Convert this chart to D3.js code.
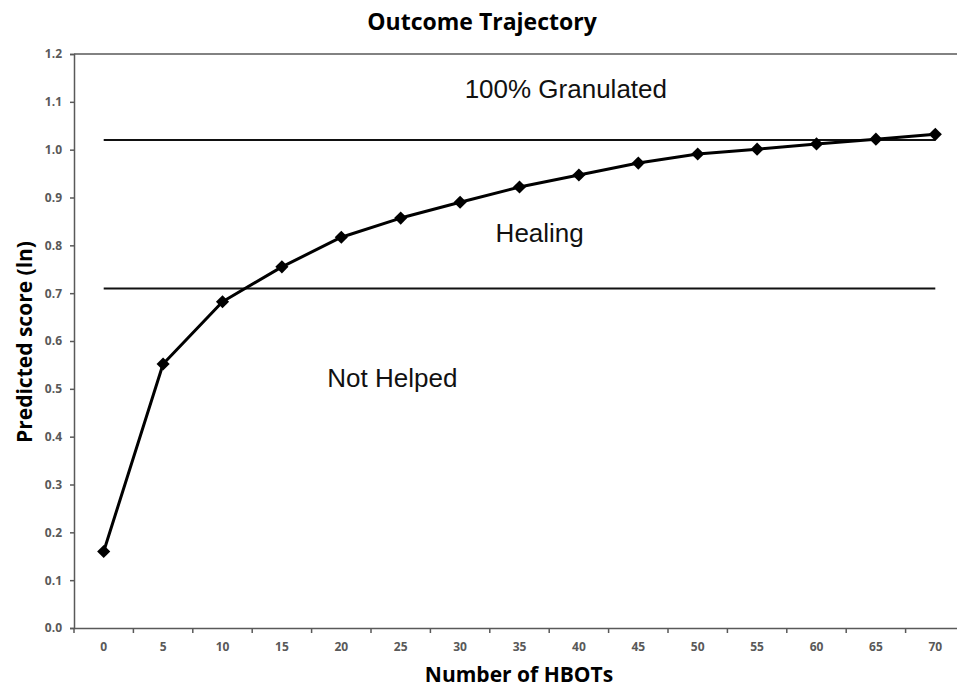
<!DOCTYPE html>
<html>
<head>
<meta charset="utf-8">
<script src="https://cdn.jsdelivr.net/npm/d3@7/dist/d3.min.js"></script>
<style>
  body { margin: 0; background: #fff; }
  svg { display: block; }
</style>
</head>
<body>
<div id="chart"></div>
<script>
// HBOT session counts and predicted score (ln)
const sessions = [0, 5, 10, 15, 20, 25, 30, 35, 40, 45, 50, 55, 60, 65, 70];
const scores = [0.16, 0.552, 0.682, 0.755, 0.817, 0.857, 0.89, 0.922, 0.947, 0.972, 0.991, 1.001, 1.012, 1.022, 1.032];
const yTicks = [0, 0.1, 0.2, 0.3, 0.4, 0.5, 0.6, 0.7, 0.8, 0.9, 1.0, 1.1, 1.2];
const thresholds = [1.02, 0.71];
const zoneLabels = [
  { text: "100% Granulated", at: 38.9, value: 1.109 },
  { text: "Healing", at: 36.7, value: 0.808 },
  { text: "Not Helped", at: 24.3, value: 0.504 }
];

const width = 957, height = 687;
const plotLeft = 74, plotRight = 965, plotTop = 54, plotBottom = 628;

const svg = d3.select("#chart").append("svg")
  .attr("width", width)
  .attr("height", height);

const x = d3.scaleBand()
  .domain(sessions)
  .range([plotLeft, plotRight]);

const y = d3.scaleLinear()
  .domain([0, 1.2])
  .range([plotBottom, plotTop]);

const cx = d => x(d) + x.bandwidth() / 2;
const axisColor = "#595959";
const sans = "'Open Sans', 'Noto Sans', sans-serif";

// top border of plot area
svg.append("line")
  .attr("x1", plotLeft).attr("x2", width)
  .attr("y1", y(1.2)).attr("y2", y(1.2))
  .attr("stroke", axisColor).attr("stroke-width", 1.5);

// y axis
const yAxis = svg.append("g")
  .attr("transform", `translate(${plotLeft},0)`)
  .call(d3.axisLeft(y).tickValues(yTicks).tickFormat(d3.format(".1f")).tickSize(4).tickPadding(8));
yAxis.select(".domain").attr("stroke", axisColor).attr("stroke-width", 1.5);
yAxis.selectAll(".tick line").attr("stroke", axisColor).attr("stroke-width", 1.5);
yAxis.selectAll("text")
  .attr("fill", axisColor)
  .style("font-family", sans)
  .style("font-size", "12px")
  .style("font-weight", "700");

// x axis (ticks between categories, like Excel)
const xAxis = svg.append("g")
  .attr("transform", `translate(0,${plotBottom})`)
  .call(d3.axisBottom(x).tickSize(0).tickPadding(14));
xAxis.select(".domain").attr("stroke", axisColor).attr("stroke-width", 1.5);
xAxis.selectAll("text")
  .attr("fill", axisColor)
  .style("font-family", sans)
  .style("font-size", "12px")
  .style("font-weight", "700");
xAxis.selectAll(".between")
  .data(sessions)
  .enter().append("line")
  .attr("x1", d => x(d)).attr("x2", d => x(d))
  .attr("y1", 0).attr("y2", 5)
  .attr("stroke", axisColor).attr("stroke-width", 1.5);

// threshold lines
svg.selectAll(".threshold")
  .data(thresholds)
  .enter().append("line")
  .attr("x1", cx(sessions[0]))
  .attr("x2", cx(sessions[sessions.length - 1]))
  .attr("y1", d => y(d)).attr("y2", d => y(d))
  .attr("stroke", "#111").attr("stroke-width", 2);

// zone labels, positioned in session units
svg.selectAll(".zone")
  .data(zoneLabels)
  .enter().append("text")
  .attr("x", d => cx(0) + d.at / 5 * x.step())
  .attr("y", d => y(d.value))
  .attr("text-anchor", "middle")
  .attr("fill", "#111")
  .style("font-family", "'Liberation Sans', Arial, sans-serif")
  .style("font-size", "26px")
  .text(d => d.text);

// trajectory line
const line = d3.line()
  .x((d, i) => cx(sessions[i]))
  .y(d => y(d));

svg.append("path")
  .datum(scores)
  .attr("fill", "none")
  .attr("stroke", "#000")
  .attr("stroke-width", 3)
  .attr("stroke-linejoin", "round")
  .attr("d", line);

svg.selectAll(".marker")
  .data(scores)
  .enter().append("path")
  .attr("d", d3.symbol(d3.symbolDiamond2, 110))
  .attr("transform", (d, i) => `translate(${cx(sessions[i])},${y(d)})`)
  .attr("fill", "#000");

// titles
svg.append("text")
  .attr("x", 482).attr("y", 30)
  .attr("text-anchor", "middle")
  .style("font-family", sans)
  .style("font-size", "23px")
  .style("font-weight", "700")
  .text("Outcome Trajectory");

svg.append("text")
  .attr("x", 519).attr("y", 682)
  .attr("text-anchor", "middle")
  .style("font-family", sans)
  .style("font-size", "21px")
  .style("font-weight", "700")
  .text("Number of HBOTs");

svg.append("text")
  .attr("transform", "translate(32,342) rotate(-90)")
  .attr("text-anchor", "middle")
  .style("font-family", sans)
  .style("font-size", "21px")
  .style("font-weight", "700")
  .text("Predicted score (ln)");
</script>
</body>
</html>
